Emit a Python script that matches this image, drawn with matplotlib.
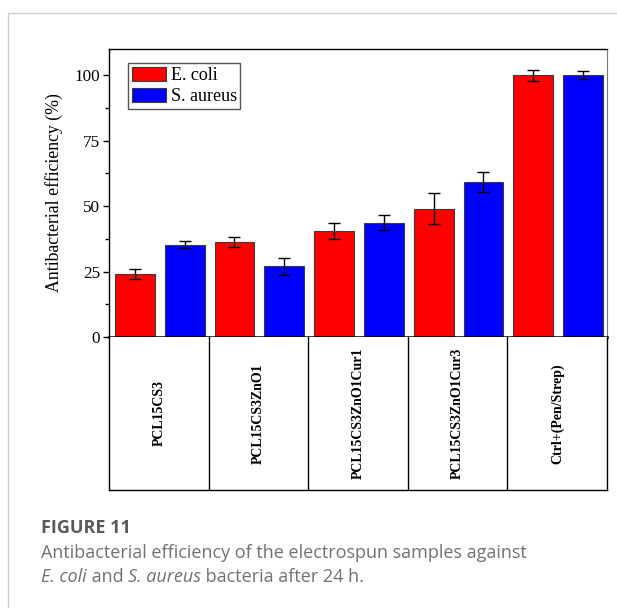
import numpy as np
import matplotlib
matplotlib.use("Agg")
from matplotlib import pyplot as plt
from matplotlib.lines import Line2D

# data
samples = ["PCL15CS3", "PCL15CS3ZnO1", "PCL15CS3ZnO1Cur1", "PCL15CS3ZnO1Cur3", "Ctrl+(Pen/Strep)"]
ecoli = [24.0, 36.3, 40.5, 49.0, 100.0]
ecoli_err = [2.0, 1.9, 3.1, 5.9, 2.1]
saureus = [35.3, 27.0, 43.7, 59.2, 100.0]
saureus_err = [1.2, 3.2, 3.0, 4.0, 1.5]

W, H = 617, 608
fig = plt.figure(figsize=(W / 100, H / 100), dpi=100)

serif = "Liberation Serif"

# main bar axes
ax = fig.add_axes([109 / W, 1 - 337 / H, 498 / W, 288 / H])
x = np.arange(len(samples))
ax.bar(x - 0.24, ecoli, 0.4, color="#ff0000", edgecolor="#3a3a3a", linewidth=0.8, label="E. coli", zorder=2)
ax.bar(x + 0.26, saureus, 0.4, color="#0000ff", edgecolor="#3a3a3a", linewidth=0.8, label="S. aureus", zorder=2)
ax.errorbar(x - 0.24, ecoli, yerr=ecoli_err, fmt="none", ecolor="black", elinewidth=1, capsize=4, capthick=1, zorder=3)
ax.errorbar(x + 0.26, saureus, yerr=saureus_err, fmt="none", ecolor="black", elinewidth=1, capsize=4, capthick=1, zorder=3)

ax.set_xlim(-0.5, len(samples) - 0.5)
ax.set_ylim(0, 110)
ax.set_yticks([0, 25, 50, 75, 100])
ax.set_yticks(np.arange(12.5, 110, 25), minor=True)
ax.set_xticks([])
ax.tick_params(axis="y", which="major", direction="out", length=4.5, width=1, labelsize=12.3, pad=2)
ax.tick_params(axis="y", which="minor", direction="out", length=3, width=1)
for lab in ax.get_yticklabels():
    lab.set_fontfamily(serif)
ax.set_ylabel("Antibacterial efficiency (%)", fontfamily=serif, fontsize=12.8, labelpad=8)
ax.spines["bottom"].set_linewidth(1.8)
ax.spines["right"].set_color("#777777")
for s in ["top", "left"]:
    ax.spines[s].set_linewidth(1)

leg = ax.legend(loc="upper left", bbox_to_anchor=(0.0388, 0.95), borderaxespad=0,
                prop={"family": serif, "size": 13}, fancybox=False, edgecolor="#555555",
                handlelength=1.92, handleheight=0.87, handletextpad=0.25, labelspacing=0.2,
                borderpad=0.18, framealpha=1)
leg.get_frame().set_linewidth(1)

# category table below the axis
tab = fig.add_axes([109 / W, 1 - 490 / H, 498 / W, 153 / H])
tab.set_xlim(-0.5, len(samples) - 0.5)
tab.set_ylim(0, 1)
tab.set_xticks([])
tab.set_yticks([])
tab.spines["top"].set_visible(False)
for s in ["left", "right", "bottom"]:
    tab.spines[s].set_linewidth(1)
for i in range(1, len(samples)):
    tab.axvline(i - 0.5, color="black", linewidth=1)
for i, name in enumerate(samples):
    tab.text(i, 0.5, name, rotation=90, ha="center", va="center",
             fontfamily=serif, fontweight="bold", fontsize=10)

# outer border of the figure panel
fig.add_artist(Line2D([8 / W, 8 / W, 1], [0, 1 - 13 / H, 1 - 13 / H],
                      transform=fig.transFigure, color="#cccccc", linewidth=1))

# caption
capfont = "Open Sans"
capsize = 13
capcol = "#727272"
fig.text(41 / W, 1 - 533 / H, "FIGURE 11", fontfamily=capfont, fontweight="bold",
         fontsize=capsize, color="#595959", va="baseline")
fig.text(41 / W, 1 - 558 / H, "Antibacterial efficiency of the electrospun samples against",
         fontfamily=capfont, fontsize=capsize, color=capcol, va="baseline")

fig.canvas.draw()
r = fig.canvas.get_renderer()
xpos = 41
for txt, style in [("E. coli", "italic"), (" and ", "normal"), ("S. aureus", "italic"),
                   (" bacteria after 24 h.", "normal")]:
    t = fig.text(xpos / W, 1 - 582 / H, txt, fontfamily=capfont, fontstyle=style,
                 fontsize=capsize, color=capcol, va="baseline")
    xpos = t.get_window_extent(r).x1

fig.savefig("out.png", dpi=100)
